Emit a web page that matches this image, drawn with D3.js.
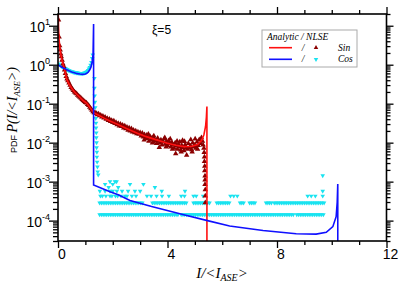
<!DOCTYPE html>
<html lang="en">
<head>
<meta charset="utf-8">
<script src="https://cdn.jsdelivr.net/npm/d3@7"></script>
<style>
  body { margin: 0; background: #fff; }
  text { font-family: "Liberation Sans", Arial, sans-serif; fill: #000; }
  .it { font-family: "Liberation Serif", "Times New Roman", serif; font-style: italic; }
</style>
</head>
<body>
<svg id="chart" width="415" height="284"></svg>
<script>
// analytic PDF, sin initial condition  [I/<I_ASE>, P]
const sinAnalytic = [[0.003,40],[0.01,20],[0.02,9],[0.04,4.5],[0.07,2.6],[0.1,1.9],[0.14,1.35],[0.19,1.0],
  [0.25,0.7],[0.32,0.42],[0.4,0.32],[0.5,0.25],[0.6,0.2],[0.68,0.175],[0.8,0.145],[0.92,0.12],[1.05,0.102],
  [1.18,0.078],[1.32,0.058],[1.5,0.05],[1.7,0.042],[1.9,0.036],[2.2,0.029],[2.5,0.023],[2.9,0.0175],
  [3.2,0.0145],[3.6,0.0118],[4.0,0.0097],[4.3,0.0086],[4.6,0.0079],[4.9,0.0081],[5.1,0.009],[5.25,0.0115],
  [5.33,0.016],[5.39,0.026],[5.42,0.045],[5.44,0.085],[5.44,3e-5]];

// analytic PDF, cos initial condition
const cosAnalytic = [[0,1.0],[0.1,0.9],[0.2,0.82],[0.3,0.76],[0.4,0.7],[0.5,0.65],[0.6,0.62],[0.7,0.59],
  [0.8,0.575],[0.9,0.565],[0.95,0.57],[1.0,0.58],[1.05,0.6],[1.1,0.64],[1.15,0.72],[1.2,0.85],[1.25,1.2],
  [1.28,1.8],[1.3,11],[1.3,8.2e-4],[1.9,5.5e-4],[2.2,4.6e-4],[2.63,3.3e-4],[3.42,2.3e-4],[4.63,1.4e-4],
  [5.46,1.0e-4],[6.27,7.3e-5],[7.49,5.6e-5],[8.7,4.6e-5],[9.43,4.5e-5],[9.8,5.0e-5],[10.04,7e-5],
  [10.16,1.26e-4],[10.2,3e-4],[10.22,8.7e-4],[10.22,3e-5]];

// NLSE histogram, sin
const sinNlse = [[0.02,14],[0.04,5.2],[0.06,3.1],[0.08,2.4],[0.1,1.9],[0.12,1.6],[0.15,1.3],[0.18,1.05],
  [0.21,0.9],[0.24,0.74],[0.27,0.6],[0.3,0.5],[0.33,0.43],[0.36,0.39],[0.4,0.34],[0.44,0.3],[0.48,0.26],
  [0.52,0.24],[0.56,0.22],[0.6,0.2],[0.64,0.19],[0.68,0.18],[0.72,0.165],[0.76,0.155],[0.8,0.148],
  [0.84,0.138],[0.88,0.128],[0.92,0.122],[0.96,0.115],[1.0,0.108],[1.04,0.104],[1.08,0.096],[1.12,0.09],
  [1.16,0.082],[1.2,0.075],[1.24,0.068],[1.28,0.062],[1.32,0.059],[1.36,0.058],
  [1.40,0.056],[1.44,0.052],[1.48,0.055],[1.52,0.049],[1.56,0.051],[1.6,0.046],[1.64,0.048],[1.68,0.043],
  [1.72,0.045],[1.76,0.04],[1.8,0.042],[1.84,0.037],[1.88,0.04],[1.92,0.035],[1.96,0.037],[2.0,0.033],
  [2.04,0.036],[2.08,0.031],[2.12,0.033],[2.16,0.029],[2.2,0.031],[2.24,0.027],[2.28,0.03],[2.32,0.026],
  [2.36,0.028],[2.4,0.024],[2.44,0.027],[2.48,0.023],[2.52,0.025],[2.56,0.021],[2.6,0.024],[2.64,0.02],
  [2.68,0.023],[2.72,0.019],[2.76,0.021],[2.8,0.018],[2.84,0.02],[2.88,0.017],[2.92,0.019],[2.96,0.0165],
  [3.0,0.018],[3.04,0.015],[3.08,0.0175],[3.12,0.014],[3.16,0.016],[3.2,0.0128],[3.24,0.0155],[3.28,0.013],
  [3.32,0.011],[3.36,0.0145],[3.4,0.012],[3.44,0.0135],[3.48,0.0105],[3.52,0.0125],[3.56,0.0115],
  [3.6,0.0095],[3.64,0.013],[3.68,0.011],[3.7,0.0075],[3.72,0.0098],[3.76,0.0118],[3.8,0.0088],
  [3.84,0.0105],[3.88,0.0125],[3.92,0.0092],[3.96,0.0108],[4.0,0.0085],[4.04,0.0112],[4.08,0.0095],
  [4.12,0.0078],[4.16,0.0102],[4.2,0.0088],[4.24,0.0072],[4.28,0.0098],[4.3,0.0052],[4.32,0.0082],
  [4.36,0.0068],[4.4,0.0092],[4.44,0.0078],[4.48,0.0065],[4.52,0.0085],[4.55,0.0115],[4.56,0.0074],
  [4.6,0.0062],[4.64,0.0088],[4.68,0.0076],[4.7,0.0048],[4.72,0.0068],[4.76,0.0095],[4.8,0.0072],
  [4.84,0.0082],[4.85,0.012],[4.88,0.0066],[4.92,0.0098],[4.96,0.0078],[5.0,0.0088],[5.01,0.0125],
  [5.04,0.0072],[5.08,0.0105],[5.12,0.0085],[5.16,0.012],[5.2,0.0095],[5.24,0.0135],[5.28,0.011],
  [5.3,0.0088],[5.33,0.0072],[5.34,0.0056],[5.35,0.0043],[5.35,0.0033],[5.36,0.0025],[5.36,0.0019],
  [5.37,0.0014],[5.37,0.0011],[5.37,0.00085],[5.38,0.00062],[5.38,0.00043],[5.38,0.00029],
  [3.3,0.0165],[3.5,0.0148],[3.9,0.0135],[4.1,0.0125],[4.35,0.011],[4.45,0.0105],[4.62,0.0108],
  [3.15,0.0118],[3.45,0.0098],[3.95,0.0078],[4.18,0.0068],[4.5,0.0058],[4.9,0.0058],[5.1,0.0068]];

// NLSE histogram, cos (continuous part)
const cosNlse = [[0.02,1.05],[0.05,1.0],[0.08,0.97],[0.11,0.94],[0.14,0.9],[0.17,0.87],[0.2,0.85],
  [0.23,0.82],[0.26,0.8],[0.29,0.78],[0.32,0.76],[0.35,0.74],[0.38,0.72],[0.41,0.71],[0.44,0.69],
  [0.47,0.68],[0.5,0.67],[0.53,0.66],[0.56,0.65],[0.59,0.64],[0.62,0.63],[0.65,0.625],[0.68,0.62],
  [0.71,0.615],[0.74,0.61],[0.77,0.605],[0.8,0.6],[0.83,0.6],[0.86,0.6],[0.89,0.6],[0.92,0.605],
  [0.95,0.61],[0.98,0.62],[1.01,0.635],[1.04,0.65],[1.07,0.68],[1.1,0.72],[1.13,0.78],[1.16,0.86],
  [1.19,0.98],[1.22,1.15],[1.25,1.45],[1.27,1.8],
  [1.33,0.45],[1.33,0.25],[1.34,0.16],[1.35,0.11],[1.36,0.08],[1.37,0.058],[1.38,0.042],[1.39,0.032],
  [1.39,0.024],[1.4,0.018],[1.4,0.0135],[1.41,0.01],[1.41,0.0075],[1.42,0.0057],[1.42,0.0043],
  [1.43,0.0032],[1.44,0.0024],[1.45,0.0018],[1.47,0.0015]];

// NLSE histogram, cos (tail: counts of one bin = cosUnit)
const cosUnit = 1.43e-4;
const cosBin = 0.065;
const cosRuns1 = [[1.52,4.4],[4.5,8.6],[8.72,9.74]];
const cosRuns2 = [[1.52,3.1],[3.45,4.7],[4.95,5.55],[5.8,6.28],[6.65,6.83],[7.0,7.2],[7.6,7.8],[7.9,9.74]];
// scattered bins [x, count]
const cosSparse = [[1.55,3],[1.62,3],[1.75,3],[1.9,3],[1.97,3],[2.1,3],[2.18,3],[2.3,3],[2.45,3],[2.52,3],
  [2.7,3],[2.85,3],[3.25,3],[3.4,3],[3.6,3],[3.8,3],[4.05,3],[4.5,3],[4.62,3],[4.95,3],[5.05,3],[5.3,3],
  [6.3,3],[6.42,3],[6.55,3],[9.12,3],[9.25,3],[9.4,3],[9.67,3],
  [1.53,4],[1.72,4],[1.9,4],[2.0,4],[2.15,4],[2.34,4],[2.56,4],[2.81,4],[3.0,4],[3.79,4],[4.64,4],[9.67,4],
  [1.72,6],[1.85,5],[2.0,6],[2.2,5],[2.63,6],[3.12,6],[3.54,5],
  [1.9,7],[2.08,7],[2.14,7],[9.67,10]];

const xMajor = [0, 4, 8, 12];
const xMinor = [1, 2, 3, 5, 6, 7, 9, 10, 11];
const yMajor = [1e-4, 1e-3, 1e-2, 1e-1, 1, 10];
const yExp = [-4, -3, -2, -1, 0, 1];
const yMinor = [3e-5,4e-5,5e-5,6e-5,7e-5,8e-5,9e-5,
  2e-4,3e-4,4e-4,5e-4,6e-4,7e-4,8e-4,9e-4,
  2e-3,3e-3,4e-3,5e-3,6e-3,7e-3,8e-3,9e-3,
  .02,.03,.04,.05,.06,.07,.08,.09,
  .2,.3,.4,.5,.6,.7,.8,.9,
  2,3,4,5,6,7,8,9,20];

const svg = d3.select("#chart");
const L = 58, R = 386.5, T = 14, B = 241;

const x = d3.scaleLinear().domain([0, 12]).range([L, R]);
const y = d3.scaleLog().domain([3e-5, 20]).range([B, T]);

const RED = "#ff1010", BLUE = "#1010ff", DARKRED = "#8b0000", CYAN = "#19e3f0";

svg.append("defs").append("clipPath").attr("id", "clip")
  .append("rect").attr("x", L).attr("y", T).attr("width", R - L).attr("height", B - T);

const plot = svg.append("g").attr("clip-path", "url(#clip)");

const triCos = d3.symbol(d3.symbolTriangle, 9)();
const triSin = d3.symbol(d3.symbolTriangle, 13)();

// cos tail bins expanded from the run lists
const cosTail = [];
[[cosRuns1, 1], [cosRuns2, 2]].forEach(([runs, n]) => {
  runs.forEach(([a, b]) => {
    for (let v = a; v <= b + 1e-9; v += cosBin) cosTail.push([v, n * cosUnit]);
  });
});
cosSparse.forEach(([v, n]) => cosTail.push([v, n * cosUnit]));

plot.selectAll(".cos").data(cosNlse.concat(cosTail)).join("path")
  .attr("d", triCos)
  .attr("transform", d => `translate(${x(d[0])},${y(d[1])}) rotate(180)`)
  .attr("fill", CYAN);

plot.selectAll(".sin").data(sinNlse).join("path")
  .attr("d", triSin)
  .attr("transform", d => `translate(${x(d[0])},${y(d[1])})`)
  .attr("fill", DARKRED);

const straight = d3.line().x(d => x(d[0])).y(d => y(d[1]));

plot.append("path").datum(sinAnalytic)
  .attr("d", straight)
  .attr("fill", "none").attr("stroke", RED).attr("stroke-width", 1.6);

plot.append("path").datum(cosAnalytic)
  .attr("d", straight)
  .attr("fill", "none").attr("stroke", BLUE).attr("stroke-width", 1.6);

// axes
function drawAxis(axisFn, scale, vals, size, tx, ty) {
  svg.append("g").attr("transform", `translate(${tx},${ty})`)
    .call(axisFn(scale).tickValues(vals).tickSize(size).tickFormat(""))
    .call(g => g.select(".domain").remove())
    .call(g => g.selectAll("line").attr("stroke", "#000").attr("stroke-width", 1.3));
}
drawAxis(d3.axisBottom, x, xMajor, 7, 0, B);
drawAxis(d3.axisBottom, x, xMinor, 4, 0, B);
drawAxis(d3.axisBottom, x, xMajor, -7, 0, T);
drawAxis(d3.axisBottom, x, xMinor, -4, 0, T);
drawAxis(d3.axisLeft, y, yMajor, 9, L, 0);
drawAxis(d3.axisLeft, y, yMinor, 5, L, 0);
drawAxis(d3.axisLeft, y, yMajor, -7, R, 0);
drawAxis(d3.axisLeft, y, yMinor, -4, R, 0);

svg.append("rect").attr("x", L).attr("y", T).attr("width", R - L).attr("height", B - T)
  .attr("fill", "none").attr("stroke", "#000").attr("stroke-width", 1.6);

// tick labels
svg.selectAll(".xl").data(xMajor).join("text")
  .attr("x", d => x(d) + 4).attr("y", B + 18)
  .attr("text-anchor", "middle").attr("font-size", 14).text(d => d);

const yl = svg.selectAll(".yl").data(yMajor).join("text")
  .attr("x", 50).attr("y", d => y(d) + 6)
  .attr("text-anchor", "end").attr("font-size", 14);
yl.append("tspan").text("10");
yl.append("tspan").attr("dy", -7).attr("font-size", 9).text((d, i) => yExp[i]);

// axis titles
const xt = svg.append("text").attr("class", "it").attr("x", 222).attr("y", 278)
  .attr("text-anchor", "middle").attr("font-size", 15);
xt.append("tspan").text("I/<I");
xt.append("tspan").attr("font-size", 10).attr("dy", 3).text("ASE");
xt.append("tspan").attr("dy", -3).text(">");

const ytl = svg.append("text").attr("transform", "translate(17,110) rotate(-90)")
  .attr("text-anchor", "middle");
ytl.append("tspan").attr("font-size", 9).text("PDF ");
ytl.append("tspan").attr("class", "it").attr("font-size", 14).text("P(I/<I");
ytl.append("tspan").attr("class", "it").attr("font-size", 9).attr("dy", 3).text("ASE");
ytl.append("tspan").attr("class", "it").attr("font-size", 14).attr("dy", -3).text(">)");

svg.append("text").attr("x", 152).attr("y", 34).attr("font-size", 12).text("ξ=5");

// legend
const lg = svg.append("g");
lg.append("rect").attr("x", 262).attr("y", 30).attr("width", 95).attr("height", 37)
  .attr("fill", "#fff").attr("stroke", "#aaa").attr("stroke-width", 1);
lg.append("text").attr("class", "it").attr("x", 267).attr("y", 40).attr("font-size", 9.5)
  .text("Analytic  / NLSE");
[[RED, DARKRED, "Sin", 47.7, 0], [BLUE, CYAN, "Cos", 59.3, 180]].forEach(([lc, mc, label, ly, rot]) => {
  lg.append("line").attr("x1", 269).attr("x2", 292).attr("y1", ly).attr("y2", ly)
    .attr("stroke", lc).attr("stroke-width", 1.6);
  lg.append("text").attr("class", "it").attr("x", 303).attr("y", ly + 3).attr("font-size", 9.5)
    .attr("text-anchor", "middle").text("/");
  lg.append("path").attr("d", triCos).attr("fill", mc)
    .attr("transform", `translate(316,${ly}) rotate(${rot})`);
  lg.append("text").attr("class", "it").attr("x", 338).attr("y", ly + 3).attr("font-size", 9.5)
    .text(label);
});
</script>
</body>
</html>
